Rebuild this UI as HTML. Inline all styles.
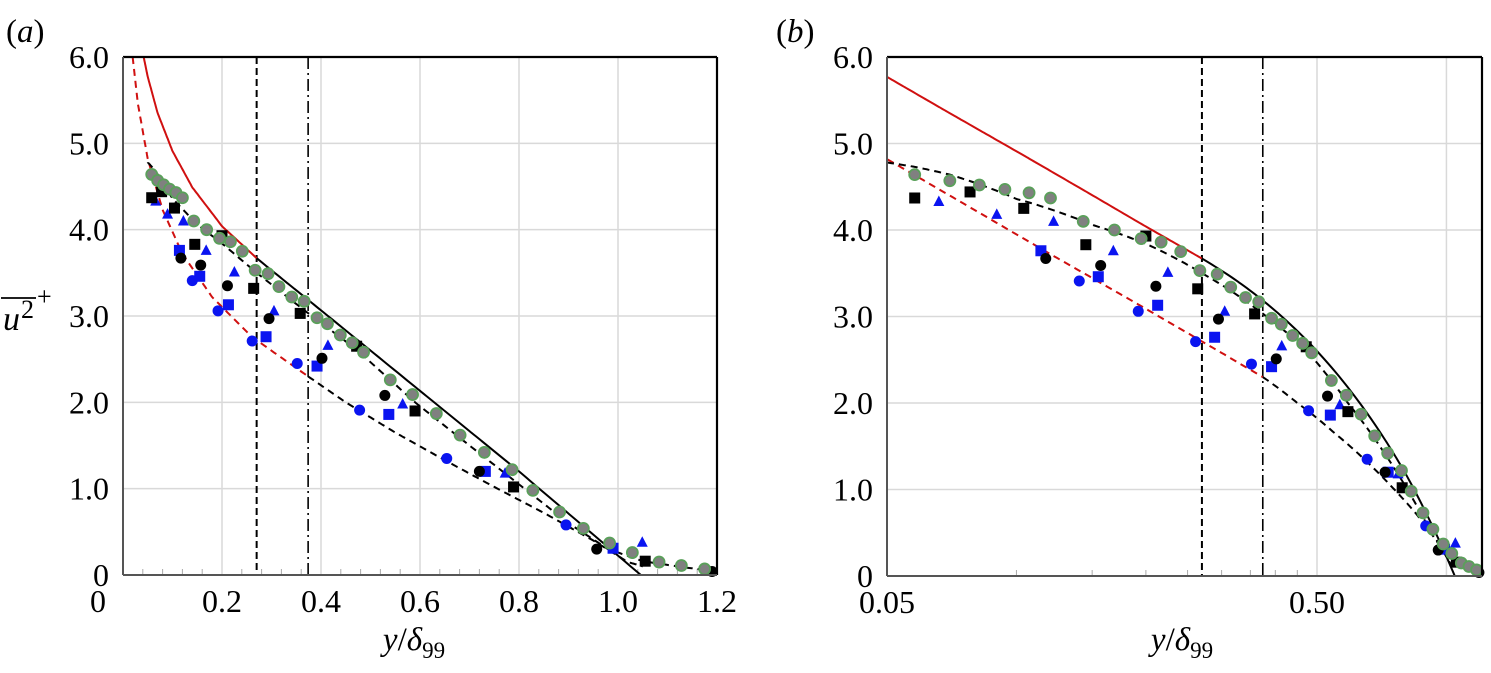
<!DOCTYPE html>
<html><head><meta charset="utf-8">
<style>
html,body{margin:0;padding:0;background:#fff;}
svg{display:block;}
svg text{font-family:"Liberation Serif","Times New Roman",serif;}
</style></head>
<body>
<svg id="chart" width="1491" height="673" viewBox="0 0 1491 673">
  <text x="6" y="42" font-size="33">(<tspan font-style="italic">a</tspan>)</text>
  <text x="776" y="42" font-size="33">(<tspan font-style="italic">b</tspan>)</text>
  <g>
    <line x1="1" y1="298" x2="36" y2="298" stroke="#000" stroke-width="1.8"/>
    <text x="3" y="330" font-size="34" font-style="italic">u</text>
    <text x="21" y="318" font-size="26">2</text>
    <text x="37" y="305" font-size="26">+</text>
  </g>
  <text x="414" y="650" font-size="33" text-anchor="middle"><tspan font-style="italic">y</tspan>/<tspan font-style="italic">δ</tspan><tspan font-size="23" dy="8">99</tspan></text>
  <text x="1182" y="650" font-size="33" text-anchor="middle"><tspan font-style="italic">y</tspan>/<tspan font-style="italic">δ</tspan><tspan font-size="23" dy="8">99</tspan></text>
  <g id="pa"></g>
  <g id="pb"></g>
</svg>
<script>
// ---- data ----
const yTicks = [0, 1, 2, 3, 4, 5, 6];
const yTickLabels = ["0", "1.0", "2.0", "3.0", "4.0", "5.0", "6.0"];
const xTicksA = [0, 0.2, 0.4, 0.6, 0.8, 1.0, 1.2];
const xTickLabelsA = ["0", "0.2", "0.4", "0.6", "0.8", "1.0", "1.2"];
const xTicksB = [0.05, 0.5];
const xTickLabelsB = ["0.05", "0.50"];
const vlineDashX = 0.27;
const vlineDashDotX = 0.374;

const greenX = [0.058,0.070,0.082,0.094,0.107,0.12,0.143,0.169,0.195,0.217,0.241,0.267,0.293,0.315,0.341,0.366,0.392,0.413,0.439,0.463,0.486,0.54,0.585,0.633,0.681,0.73,0.786,0.828,0.882,0.93,0.983,1.029,1.083,1.128,1.175];
const greenY = [4.64,4.57,4.52,4.47,4.43,4.37,4.10,4.0,3.90,3.86,3.75,3.53,3.49,3.34,3.22,3.17,2.98,2.91,2.78,2.69,2.58,2.26,2.09,1.87,1.62,1.42,1.22,0.98,0.73,0.54,0.37,0.26,0.15,0.11,0.07];
const blackSqX = [0.058,0.078,0.104,0.145,0.2,0.264,0.358,0.472,0.59,0.789,1.055];
const blackSqY = [4.37,4.44,4.25,3.83,3.93,3.32,3.03,2.65,1.90,1.02,0.16];
const blackCirX = [0.117,0.157,0.211,0.295,0.402,0.529,0.72,0.957,1.19];
const blackCirY = [3.67,3.59,3.35,2.97,2.51,2.08,1.20,0.30,0.04];
const blueTriX = [0.066,0.09,0.122,0.168,0.225,0.305,0.414,0.565,0.772,1.049];
const blueTriY = [4.33,4.18,4.10,3.76,3.51,3.06,2.66,1.98,1.18,0.38];
const blueSqX = [0.114,0.155,0.213,0.289,0.392,0.537,0.732,0.99];
const blueSqY = [3.76,3.46,3.13,2.76,2.42,1.86,1.20,0.31];
const blueCirX = [0.14,0.192,0.261,0.352,0.478,0.654,0.895];
const blueCirY = [3.41,3.06,2.71,2.45,1.91,1.35,0.58];

const redSolidX = [0.04,0.05,0.07,0.1,0.14,0.2,0.27];
const redSolidY = [6.05,5.77,5.35,4.91,4.49,4.04,3.67];
const redDashX = [0.0195,0.03,0.05,0.08,0.12,0.18,0.26,0.374];
const redDashY = [6.0,5.46,4.82,4.23,3.72,3.22,2.76,2.30];
const blackSolidX = [0.27,0.5,0.8,1.046];
const blackSolidY = [3.67,2.6,1.2,0];
const upperDashX = [0.05,0.058,0.07,0.1,0.15,0.2,0.27,0.37,0.47,0.59,0.7,0.8,0.9,0.98,1.05,1.12,1.2];
const upperDashY = [4.78,4.73,4.64,4.36,4.06,3.84,3.5,3.05,2.62,2.0,1.5,1.05,0.6,0.3,0.16,0.1,0.04];
const lowerDashX = [0.374,0.45,0.55,0.65,0.75,0.85,0.95,1.02,1.05];
const lowerDashY = [2.30,2.0,1.65,1.33,1.02,0.72,0.4,0.15,0.1];

const NS = "http://www.w3.org/2000/svg";
function mk(tag, attrs, parent){ const e=document.createElementNS(NS,tag); for(const k in attrs) e.setAttribute(k,attrs[k]); parent.appendChild(e); return e; }

function drawPanel(g, P, xs, xticks, xlabels, gridX, minorX, id, logX){
  const ys = v => P.b - v*(P.b-P.t)/6;
  const cid = "clip"+id;
  const defs = mk("defs",{},g);
  const cp = mk("clipPath",{id:cid},defs);
  mk("rect",{x:P.l,y:P.t,width:P.r-P.l,height:P.b-P.t},cp);
  for(let i=1;i<yTicks.length-1;i++){
    const gl = mk("line",{x1:P.l,x2:P.r,y1:ys(yTicks[i]),y2:ys(yTicks[i]),stroke:"#d9d9d9","stroke-width":1.5},g);
    
    
  }
  gridX.forEach(v=>{
    const gl = mk("line",{x1:xs(v),x2:xs(v),y1:P.t,y2:P.b,stroke:"#d9d9d9","stroke-width":1.5},g);
    
    
  });
  minorX.forEach(v=>{
    const t = mk("line",{x1:xs(v),x2:xs(v),y1:P.b-6,y2:P.b,stroke:"#aaa","stroke-width":1},g);
    
    
  });
  yTicks.forEach((v,i)=>{
    const t = mk("text",{x:P.l-14,y:ys(v)+11,"font-size":32,"text-anchor":"end"},g);
    t.textContent = yTickLabels[i];
    
    
  });
  xticks.forEach((v,i)=>{
    let x = xs(v);
    if(id==="a" && v===0) x = P.l-25;
    const t = mk("text",{x:x,y:P.b+37,"font-size":32,"text-anchor":"middle"},g);
    t.textContent = xlabels[i];
    
    
  });
  const cg = mk("g",{"clip-path":"url(#"+cid+")"},g);
  const v1 = mk("line",{x1:xs(vlineDashX),x2:xs(vlineDashX),y1:P.t,y2:P.b,stroke:"#000","stroke-width":2,"stroke-dasharray":"7,4"},cg);
  
  
  const v2 = mk("line",{x1:xs(vlineDashDotX),x2:xs(vlineDashDotX),y1:P.t,y2:P.b,stroke:"#000","stroke-width":1.6,"stroke-dasharray":"12,4,2,4"},cg);
  
  
  function curve(X,Y,color,dash,w,name,geo){
    const pts=[];
    for(let i=0;i<X.length;i++){
      if(i>0){
        for(let s=1;s<12;s++){
          const f=s/12;
          const xi = geo ? X[i-1]*Math.pow(X[i]/X[i-1],f) : X[i-1]+(X[i]-X[i-1])*f;
          pts.push([xs(xi), ys(Y[i-1]+(Y[i]-Y[i-1])*f)]);
        }
      }
      pts.push([xs(X[i]),ys(Y[i])]);
    }
    let d="M"+pts[0][0].toFixed(1)+","+pts[0][1].toFixed(1);
    for(let i=0;i<pts.length-1;i++){
      const p0=pts[Math.max(0,i-1)],p1=pts[i],p2=pts[i+1],p3=pts[Math.min(pts.length-1,i+2)];
      const c1=[p1[0]+(p2[0]-p0[0])/6,p1[1]+(p2[1]-p0[1])/6];
      const c2=[p2[0]-(p3[0]-p1[0])/6,p2[1]-(p3[1]-p1[1])/6];
      d+="C"+c1[0].toFixed(1)+","+c1[1].toFixed(1)+" "+c2[0].toFixed(1)+","+c2[1].toFixed(1)+" "+p2[0].toFixed(1)+","+p2[1].toFixed(1);
    }
    const p = mk("path",{d:d,fill:"none",stroke:color,"stroke-width":w},cg);
    if(dash) p.setAttribute("stroke-dasharray",dash);
    
    
  }
  curve(redSolidX,redSolidY,"#d01010",null,2,"red-solid-curve",logX);
  curve(redDashX,redDashY,"#d01010","7,5",2,"red-dashed-curve",logX);
  curve(blackSolidX,blackSolidY,"#000",null,2,"black-solid-curve",false);
  curve(upperDashX,upperDashY,"#000","7,5",2,"upper-dashed-curve",false);
  curve(lowerDashX,lowerDashY,"#000","7,5",2,"lower-dashed-curve",false);
  function circles(X,Y,fill,stroke,name){
    X.forEach((x,i)=>{
      const c = mk("circle",{cx:xs(x),cy:ys(Y[i]),r:5.5,fill:fill},g);
      if(stroke){c.setAttribute("stroke",stroke);c.setAttribute("stroke-width",1.8);}
      
      
    });
  }
  function squares(X,Y,fill,name){
    X.forEach((x,i)=>{
      const c = mk("rect",{x:xs(x)-5.5,y:ys(Y[i])-5.5,width:11,height:11,fill:fill},g);
      
      
    });
  }
  function tris(X,Y,fill,name){
    X.forEach((x,i)=>{
      const cx=xs(x), cy=ys(Y[i]);
      const c = mk("polygon",{points:`${cx},${cy-6} ${cx-5.5},${cy+4.5} ${cx+5.5},${cy+4.5}`,fill:fill},g);
      
      
    });
  }
  circles(blueCirX,blueCirY,"#0a14f0",null,"blue-circle-point");
  squares(blueSqX,blueSqY,"#0a14f0","blue-square-point");
  tris(blueTriX,blueTriY,"#0a14f0","blue-triangle-point");
  circles(blackCirX,blackCirY,"#000",null,"black-circle-point");
  squares(blackSqX,blackSqY,"#000","black-square-point");
  circles(greenX,greenY,"#808080","#5aa05a","green-circle-point");
  const fr = mk("g",{},g);
  
  
  mk("line",{x1:P.l,x2:P.r,y1:P.t,y2:P.t,stroke:"#000","stroke-width":2.2},fr);
  mk("line",{x1:P.r,x2:P.r,y1:P.t,y2:P.b,stroke:"#000","stroke-width":2.2},fr);
  mk("line",{x1:P.l,x2:P.l,y1:P.t,y2:P.b,stroke:"#555","stroke-width":2},fr);
  mk("line",{x1:P.l,x2:P.r,y1:P.b,y2:P.b,stroke:"#555","stroke-width":2},fr);
}

const PA = {l:123,r:717,t:57,b:575};
const xsA = v => PA.l + v*(PA.r-PA.l)/1.2;
const minorA = [];
for(let k=1;k<30;k++){ if(k%5) minorA.push(k*0.04); }
drawPanel(document.getElementById("pa"),PA,xsA,xTicksA,xTickLabelsA,[0.2,0.4,0.6,0.8,1.0],minorA,"a",false);

const PB = {l:887,r:1482,t:57,b:576};
const xsB = v => PB.l + Math.log10(v/0.05)*430;
drawPanel(document.getElementById("pb"),PB,xsB,xTicksB,xTickLabelsB,[0.5,1.0],[0.1,0.15,0.2,0.25,0.3,0.35,0.4,0.45],"b",true);
</script>
</body></html>
